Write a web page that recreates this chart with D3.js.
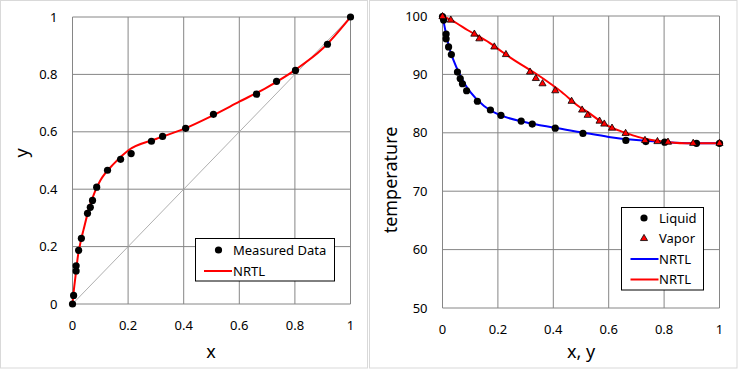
<!DOCTYPE html>
<html><head><meta charset="utf-8">
<script src="https://cdn.jsdelivr.net/npm/d3@7"></script>
<style>
body{margin:0;background:#fff;}
text{font-family:"Noto Sans","Open Sans",sans-serif;fill:#000;}
</style></head>
<body>
<svg id="c" width="738" height="369"></svg>
<script>
// Measured data (liquid mole fraction x, vapor mole fraction y, temperature T)
const measX = [0,0.004,0.013,0.013,0.022,0.032,0.054,0.064,0.072,0.087,0.126,0.173,0.211,0.284,0.324,0.407,0.507,0.662,0.734,0.802,0.917,1];
const measY = [0,0.030,0.115,0.133,0.187,0.229,0.316,0.337,0.361,0.407,0.466,0.504,0.524,0.567,0.584,0.612,0.661,0.731,0.776,0.814,0.905,1];
const measT = [99.9,99.3,96.9,96.1,94.7,93.4,90.4,89.3,88.4,87.2,85.4,83.9,83.0,82.0,81.5,80.8,79.9,78.7,78.5,78.4,78.2,78.2];
// NRTL model curve
const nrtlX = [0,0.005,0.01,0.02,0.03,0.04,0.06,0.08,0.1,0.15,0.2,0.3,0.4,0.5,0.6,0.7,0.8,0.9,1];
const nrtlY = [0,0.05,0.09,0.17,0.22,0.26,0.335,0.39,0.43,0.49,0.535,0.575,0.61,0.655,0.705,0.755,0.815,0.89,1];
const nrtlT = [100,98.8,97.6,95.4,93.7,92.4,90.2,88.4,87.0,84.6,83.2,81.8,80.9,80.1,79.3,78.75,78.4,78.2,78.2];
const xTicks = [0,0.2,0.4,0.6,0.8,1];
const yTicksL = [0,0.2,0.4,0.6,0.8,1];
const tTicks = [50,60,70,80,90,100];

const svg = d3.select("#c");
const grid = "#868686";
const fmt = d => String(d);

// chart frames
svg.append("rect").attr("x",0.5).attr("y",0.5).attr("width",367).attr("height",367.5).attr("fill","#fff").attr("stroke","#d9d9d9");
svg.append("rect").attr("x",369.5).attr("y",0.5).attr("width",367.5).attr("height",367.5).attr("fill","#fff").attr("stroke","#d9d9d9");

function frame(g, x, y, xt, yt){
  const [x0,x1]=x.range(), [y0,y1]=y.range();
  g.append("g").selectAll("line").data(xt).join("line").attr("x1",d=>x(d)).attr("x2",d=>x(d)).attr("y1",y1).attr("y2",y0).attr("stroke",grid).attr("stroke-width",1);
  g.append("g").selectAll("line").data(yt).join("line").attr("x1",x0).attr("x2",x1).attr("y1",d=>y(d)).attr("y2",d=>y(d)).attr("stroke",grid).attr("stroke-width",1);
  g.append("g").selectAll("text").data(xt).join("text").attr("x",d=>x(d)).attr("y",y0+26).attr("text-anchor","middle").attr("font-size",13).text(fmt);
  g.append("g").selectAll("text").data(yt).join("text").attr("x",x0-15).attr("y",d=>y(d)+4.5).attr("text-anchor","end").attr("font-size",13).text(fmt);
}

// LEFT CHART
const xL = d3.scaleLinear().domain([0,1]).range([72.5,350.5]);
const yL = d3.scaleLinear().domain([0,1]).range([304,17]);
const gL = svg.append("g");
frame(gL,xL,yL,xTicks,yTicksL);
gL.append("line").attr("x1",xL(0)).attr("y1",yL(0)).attr("x2",xL(1)).attr("y2",yL(1)).attr("stroke","#a6a6a6").attr("stroke-width",0.9);
const lineL = d3.line().x(d=>xL(d[0])).y(d=>yL(d[1])).curve(d3.curveMonotoneX);
gL.append("path").attr("d",lineL(d3.zip(nrtlX,nrtlY))).attr("fill","none").attr("stroke","#ff0000").attr("stroke-width",2);
gL.append("g").selectAll("circle").data(d3.zip(measX,measY)).join("circle").attr("cx",d=>xL(d[0])).attr("cy",d=>yL(d[1])).attr("r",3.6).attr("fill","#000");
gL.append("text").attr("x",211).attr("y",358).attr("text-anchor","middle").attr("font-size",18).text("x");
gL.append("text").attr("transform","translate(28,153) rotate(-90)").attr("text-anchor","middle").attr("font-size",18).text("y");
// legend L
const lgL = gL.append("g");
lgL.append("rect").attr("x",195.5).attr("y",238.5).attr("width",139).attr("height",42.5).attr("fill","#fff").attr("stroke","#000");
lgL.append("circle").attr("cx",218.5).attr("cy",250).attr("r",3.6).attr("fill","#000");
lgL.append("text").attr("x",233).attr("y",254.5).attr("font-size",13).text("Measured Data");
lgL.append("line").attr("x1",204).attr("x2",232).attr("y1",271).attr("y2",271).attr("stroke","#ff0000").attr("stroke-width",2);
lgL.append("text").attr("x",233).attr("y",275.5).attr("font-size",13).text("NRTL");

// RIGHT CHART
const xR = d3.scaleLinear().domain([0,1]).range([442.5,719.5]);
const yR = d3.scaleLinear().domain([50,100]).range([308,16]);
const gR = svg.append("g");
frame(gR,xR,yR,xTicks,tTicks);
const lineR = d3.line().x(d=>xR(d[0])).y(d=>yR(d[1])).curve(d3.curveMonotoneX);
gR.append("path").attr("d",lineR(d3.zip(nrtlX,nrtlT))).attr("fill","none").attr("stroke","#0000ff").attr("stroke-width",2);
gR.append("path").attr("d",lineR(d3.zip(nrtlY,nrtlT))).attr("fill","none").attr("stroke","#ff0000").attr("stroke-width",2);
gR.append("g").selectAll("circle").data(d3.zip(measX,measT)).join("circle").attr("cx",d=>xR(d[0])).attr("cy",d=>yR(d[1])).attr("r",3.6).attr("fill","#000");
const tri = d3.symbol().type(d3.symbolTriangle).size(22);
gR.append("g").selectAll("path").data(d3.zip(measY,measT)).join("path").attr("d",tri).attr("transform",d=>`translate(${xR(d[0])},${yR(d[1])})`).attr("fill","#ff0000").attr("stroke","#000").attr("stroke-width",0.8);
gR.append("text").attr("x",581).attr("y",358).attr("text-anchor","middle").attr("font-size",18).text("x, y");
gR.append("text").attr("transform","translate(397,180) rotate(-90)").attr("text-anchor","middle").attr("font-size",18).text("temperature");
// legend R
const lgR = gR.append("g");
lgR.append("rect").attr("x",621.5).attr("y",207.5).attr("width",82).attr("height",82.5).attr("fill","#fff").attr("stroke","#000");
lgR.append("circle").attr("cx",644).attr("cy",218).attr("r",3.6).attr("fill","#000");
lgR.append("text").attr("x",659).attr("y",222.5).attr("font-size",13).text("Liquid");
lgR.append("path").attr("d",tri).attr("transform","translate(644,238.5)").attr("fill","#ff0000").attr("stroke","#000").attr("stroke-width",0.8);
lgR.append("text").attr("x",659).attr("y",243).attr("font-size",13).text("Vapor");
lgR.append("line").attr("x1",630.5).attr("x2",658.5).attr("y1",259).attr("y2",259).attr("stroke","#0000ff").attr("stroke-width",2);
lgR.append("text").attr("x",659).attr("y",263.5).attr("font-size",13).text("NRTL");
lgR.append("line").attr("x1",630.5).attr("x2",658.5).attr("y1",279.5).attr("y2",279.5).attr("stroke","#ff0000").attr("stroke-width",2);
lgR.append("text").attr("x",659).attr("y",284).attr("font-size",13).text("NRTL");
</script>
</body></html>
